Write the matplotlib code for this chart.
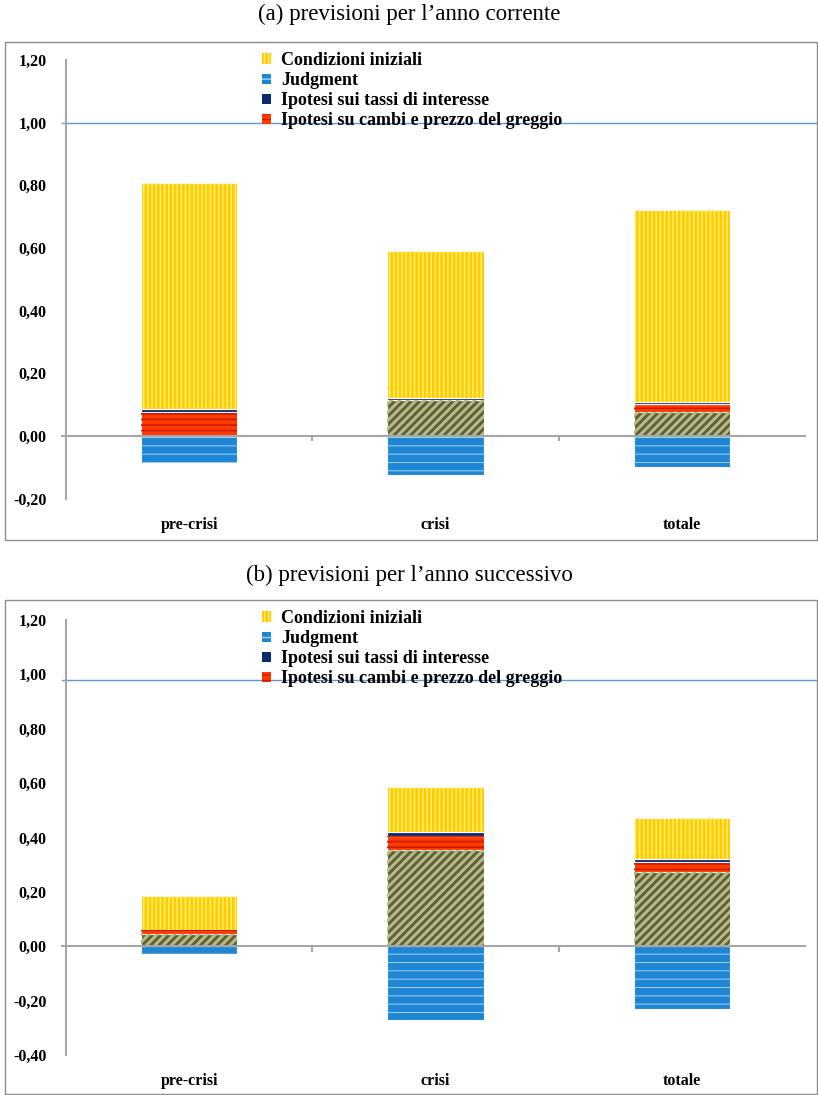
import matplotlib.pyplot as plt
import numpy as np
from matplotlib.patches import Patch, Rectangle

categories = ['pre-crisi', 'crisi', 'totale']
legend_labels = ['Condizioni iniziali', 'Judgment', 'Ipotesi sui tassi di interesse',
                 'Ipotesi su cambi e prezzo del greggio']

# (a) anno corrente
a_judgment = [-0.087, -0.125, -0.100]
a_olive = [0.000, 0.115, 0.077]
a_cambi = [0.077, 0.000, 0.025]
a_tassi = [0.010, 0.006, 0.006]
a_iniziali = [0.720, 0.470, 0.612]

# (b) anno successivo
b_judgment = [-0.030, -0.270, -0.230]
b_olive = [0.045, 0.355, 0.272]
b_cambi = [0.013, 0.050, 0.038]
b_tassi = [0.003, 0.015, 0.010]
b_iniziali = [0.124, 0.165, 0.153]

# face colour, hatch colour, hatch, hatch linewidth
st_iniziali = ('#FFCC00', '#FFEE70', '||||', 1.1)
st_judgment = ('#1F86D4', '#9FD2F5', '--', 0.7)
st_tassi = ('#0B2A6E', None, None, 1.0)
st_cambi = ('#FF3A00', '#CC1C00', '---', 1.2)
st_olive = ('#625C3C', '#B3BC80', '////', 2.2)

W, H = 818, 1095
fig = plt.figure(figsize=(W / 100, H / 100), dpi=100)

def hbar(ax, x, h, bottom, style, width=0.39):
    face, hcol, hatch, hlw = style
    ax.bar(x, h, width, bottom=bottom, color=face, edgecolor='white', linewidth=0.8, zorder=2)
    if hatch:
        with plt.rc_context({'hatch.linewidth': hlw}):
            ax.bar(x, h, width, bottom=bottom, fill=False, edgecolor=hcol, hatch=hatch,
                   linewidth=0, zorder=3)

def panel(rect, frame, title, title_y, ylim, yticks, refline, judg, olive, cambi, tassi, inizi):
    fx0, fy0, fx1, fy1 = frame
    fig.patches.append(Rectangle((fx0 / W, 1 - fy1 / H), (fx1 - fx0) / W, (fy1 - fy0) / H,
                                 transform=fig.transFigure, fill=False,
                                 edgecolor='#8C8C8C', linewidth=1.0))
    fig.text(0.5, 1 - title_y / H, title, ha='center', va='center', fontsize=16.5,
             family='Liberation Serif')
    ax = fig.add_axes(rect)
    x = np.arange(len(categories))
    olive = np.array(olive)
    cambi = np.array(cambi)
    tassi = np.array(tassi)
    hbar(ax, x, judg, 0, st_judgment)
    hbar(ax, x, olive, 0, st_olive)
    hbar(ax, x, cambi, olive, st_cambi)
    hbar(ax, x, tassi, olive + cambi, st_tassi)
    hbar(ax, x, inizi, olive + cambi + tassi, st_iniziali)

    ax.set_xlim(-0.5, 2.5)
    ax.set_ylim(*ylim)
    ax.set_yticks(yticks)
    ax.set_yticklabels([f'{v:.2f}'.replace('.', ',') for v in yticks],
                       fontweight='bold', family='Liberation Serif', fontsize=11.5)
    ax.tick_params(axis='y', length=0, pad=14)
    ax.set_xticks(x)
    ax.set_xticklabels(categories, fontweight='bold', family='Liberation Serif', fontsize=11.5)
    ax.tick_params(axis='x', length=0, pad=13)
    for s in ['top', 'right', 'bottom']:
        ax.spines[s].set_visible(False)
    ax.spines['left'].set_color('#A6A6A6')
    ax.spines['left'].set_linewidth(1.5)

    ax.axhline(0, xmin=-0.006, xmax=1, color='#A6A6A6', linewidth=1.5, zorder=4, clip_on=False)
    ax.vlines([0.5, 1.5], -0.017 * (ylim[1] - ylim[0]) / 1.4, 0, color='#A6A6A6',
              linewidth=1.5, zorder=4)
    ax.axhline(refline, xmin=-0.006, xmax=1.018, color='#5B9BD5', linewidth=1.0,
               zorder=1, clip_on=False)

    handles = [Patch(facecolor=s[0], edgecolor=s[1] or s[0], hatch=s[2], linewidth=0)
               for s in [st_iniziali, st_judgment, st_tassi, st_cambi]]
    ax.legend(handles, legend_labels, loc='upper left',
              bbox_to_anchor=(262 / W, 1 - (fy0 + 10) / H), bbox_transform=fig.transFigure,
              frameon=False, handlelength=0.5, handleheight=0.5, handletextpad=0.55,
              labelspacing=0.17, borderpad=0, borderaxespad=0,
              prop={'family': 'Liberation Serif', 'weight': 'bold', 'size': 13})
    return ax

panel([66 / W, 1 - 498.7 / H, 739 / W, 438.7 / H], (5, 42, 817, 540),
      '(a) previsioni per l\u2019anno corrente', 14, (-0.2, 1.2),
      np.arange(-0.2, 1.21, 0.2), 1.0,
      a_judgment, a_olive, a_cambi, a_tassi, a_iniziali)

panel([66 / W, 1 - 1055 / H, 739 / W, 435 / H], (5, 600, 817, 1094),
      '(b) previsioni per l\u2019anno successivo', 575, (-0.4, 1.2),
      np.arange(-0.4, 1.21, 0.2), 0.98,
      b_judgment, b_olive, b_cambi, b_tassi, b_iniziali)

fig.savefig('out.png', dpi=100)
